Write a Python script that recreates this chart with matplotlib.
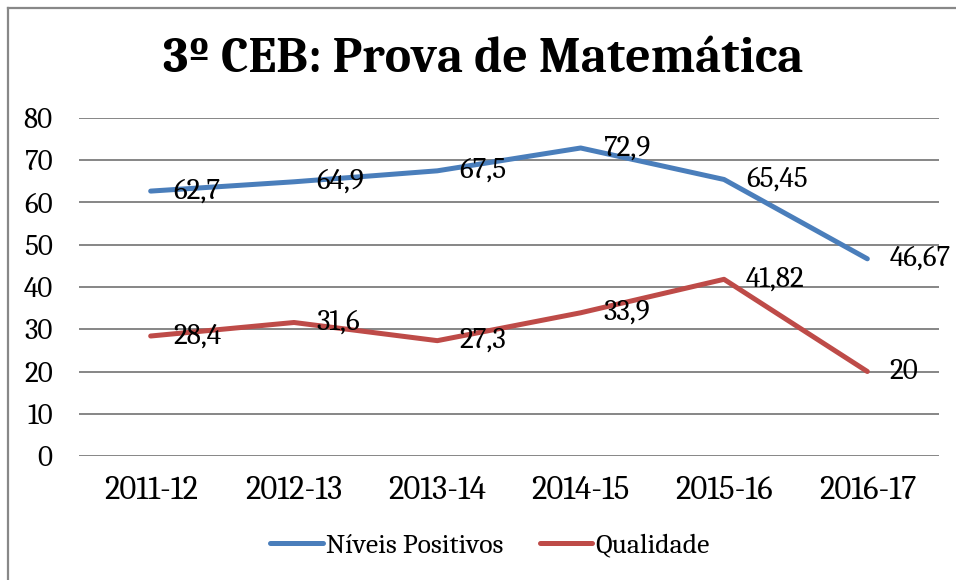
import matplotlib
matplotlib.use("Agg")
import matplotlib.pyplot as plt
from matplotlib.lines import Line2D

categories = ["2011-12", "2012-13", "2013-14", "2014-15", "2015-16", "2016-17"]
niveis_positivos = [62.7, 64.9, 67.5, 72.9, 65.45, 46.67]
qualidade = [28.4, 31.6, 27.3, 33.9, 41.82, 20]
series_names = ["Níveis Positivos", "Qualidade"]
title = "3º CEB: Prova de Matemática"
yticks = [0, 10, 20, 30, 40, 50, 60, 70, 80]

FONT = "Caladea"
W, H = 956, 580
fig = plt.figure(figsize=(W / 100, H / 100), dpi=100)
ax = fig.add_axes([79 / W, (H - 456) / H, (939 - 79) / W, (456 - 118) / H])

x = list(range(len(categories)))
colors = ["#4a7ebb", "#be4b48"]
for vals, name, c in zip([niveis_positivos, qualidade], series_names, colors):
    ax.plot(x, vals, color=c, lw=3.6, solid_capstyle="round", solid_joinstyle="round", label=name, zorder=3)
    for xi, v in zip(x, vals):
        lab = ("%g" % v).replace(".", ",")
        ax.annotate(lab, (xi, v), xytext=(16, 0), textcoords="offset points",
                    ha="left", va="center", fontsize=21, family=FONT, color="black",
                    zorder=4, annotation_clip=False)

ax.set_xlim(-0.5, len(categories) - 0.5)
ax.set_ylim(0, 80)
ax.set_yticks(yticks)
ax.set_yticklabels([str(t) for t in yticks], family=FONT, fontsize=21)
ax.set_xticks(x)
ax.set_xticklabels(categories, family=FONT, fontsize=23.5)
ax.tick_params(axis="both", length=0)
ax.tick_params(axis="y", pad=19)
ax.tick_params(axis="x", pad=14)
ax.grid(axis="y", color="#868686", lw=1.4)
ax.set_axisbelow(True)
for s in ax.spines.values():
    s.set_visible(False)

# title sized to match reference width
t = fig.text(483 / W, 1 - 60 / H, title, ha="center", va="center", family=FONT,
             fontweight="bold", fontsize=40)
fig.canvas.draw()
bb = t.get_window_extent()
t.set_fontsize(40 * 640 / bb.width)

leg = fig.legend(loc="center", bbox_to_anchor=(490 / W, 1 - 546 / H), ncol=2, frameon=False,
                 prop={"family": FONT, "size": 20}, handlelength=1.9, handletextpad=0.12,
                 columnspacing=1.3)

# chart border (top and left visible in reference)
fig.add_artist(Line2D([7.5 / W, 7.5 / W], [0, 1 - 8 / H], color="#888888", lw=1.6))
fig.add_artist(Line2D([7.5 / W, 1], [1 - 8 / H, 1 - 8 / H], color="#888888", lw=1.6))

fig.savefig("out.png", dpi=100)
